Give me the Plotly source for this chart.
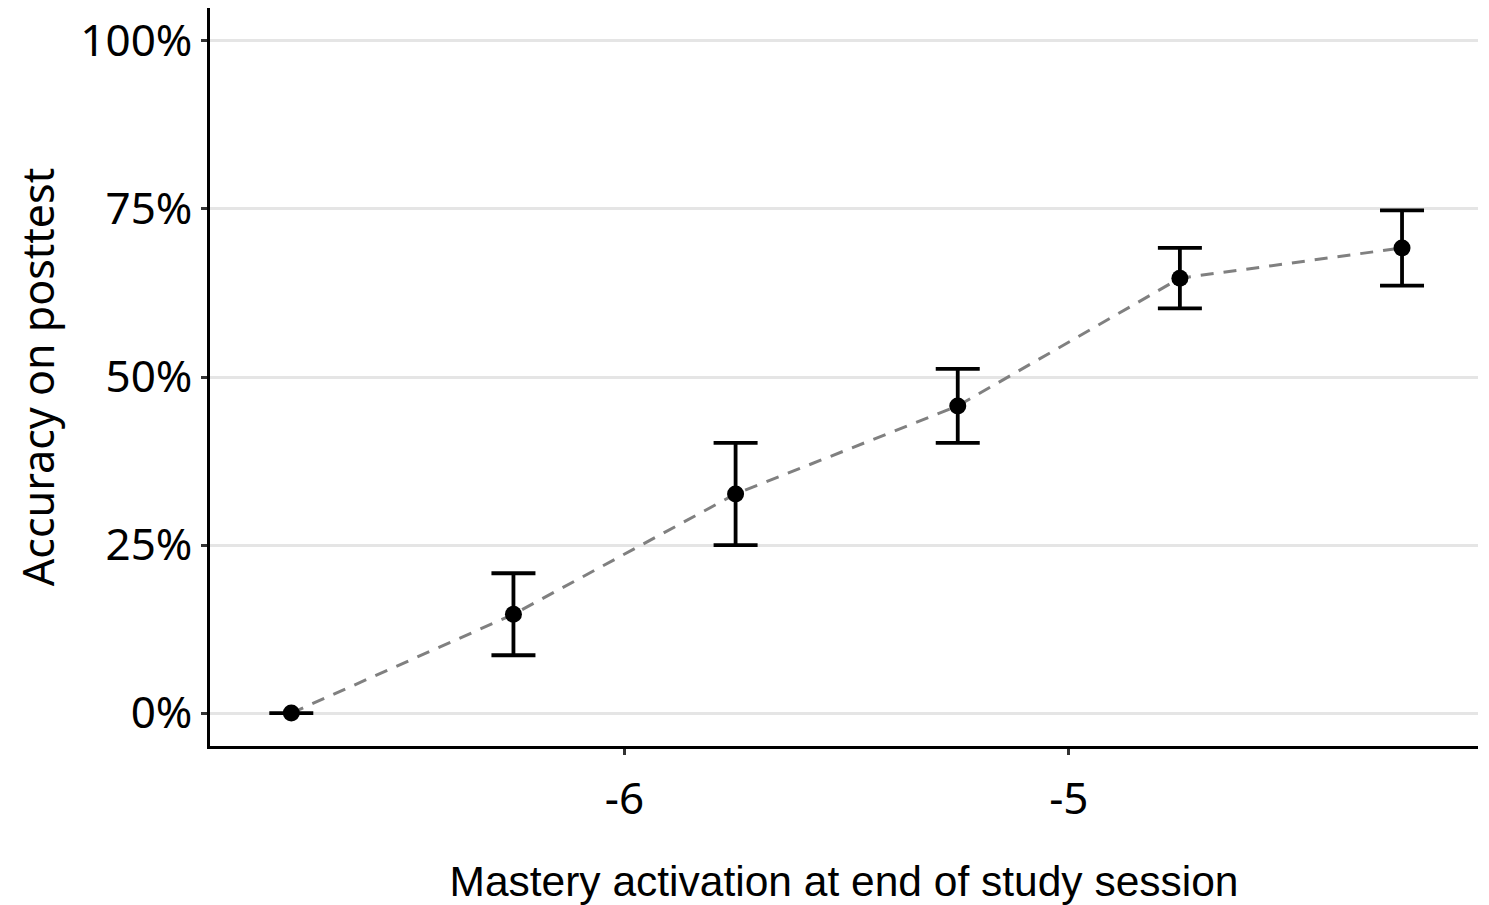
import plotly.graph_objects as go

activation = [-6.75, -6.25, -5.75, -5.25, -4.75, -4.25]
accuracy = [0.0, 0.147, 0.326, 0.457, 0.647, 0.692]
se = [0.0, 0.061, 0.076, 0.055, 0.045, 0.056]

x_ticks = [-6, -5]
x_tick_text = ["-6", "-5"]
y_ticks = [0, 0.25, 0.5, 0.75, 1.0]
y_tick_text = ["0%", "25%", "50%", "75%", "100%"]

tick_font = dict(family="Noto Sans, Lato, sans-serif", size=44, color="black")

fig = go.Figure()
fig.add_trace(go.Scatter(
    x=activation, y=accuracy, mode="lines",
    line=dict(color="#808080", width=3, dash="13px,10px"),
    hoverinfo="skip", showlegend=False,
))
fig.add_trace(go.Scatter(
    x=activation, y=accuracy, mode="markers",
    marker=dict(color="black", size=17),
    error_y=dict(type="data", array=se, visible=True, color="black",
                 thickness=3.8, width=22),
    showlegend=False,
))

# page body adds an 8px offset; compensate in size and margins
fig.update_layout(
    width=1481, height=897,
    paper_bgcolor="white", plot_bgcolor="white",
    margin=dict(l=202, r=11, t=0, b=159),
    xaxis=dict(
        range=[-6.933, -4.079], tickvals=x_ticks, ticktext=x_tick_text,
        showgrid=False, zeroline=False,
        showline=True, linecolor="black", linewidth=2.5,
        ticks="outside", ticklen=6, tickwidth=2.5, tickcolor="#333333",
        tickfont=tick_font, ticklabelstandoff=6,
        title=dict(text="Mastery activation at end of study session",
                   font=dict(family="Liberation Sans Narrow, Liberation Sans, Arial, sans-serif",
                             size=42.5, color="black"),
                   standoff=44),
    ),
    yaxis=dict(
        range=[-0.049, 1.049], tickvals=y_ticks, ticktext=y_tick_text,
        showgrid=True, gridcolor="#e5e5e5", gridwidth=2.5, zeroline=False,
        showline=True, linecolor="black", linewidth=2.5,
        ticks="outside", ticklen=6, tickwidth=2.5, tickcolor="#333333",
        tickfont=tick_font,
        title=dict(text="Accuracy on posttest",
                   font=dict(family="Noto Sans, Lato, sans-serif", size=43, color="black"),
                   standoff=26),
    ),
)

fig.write_html("out.html")
